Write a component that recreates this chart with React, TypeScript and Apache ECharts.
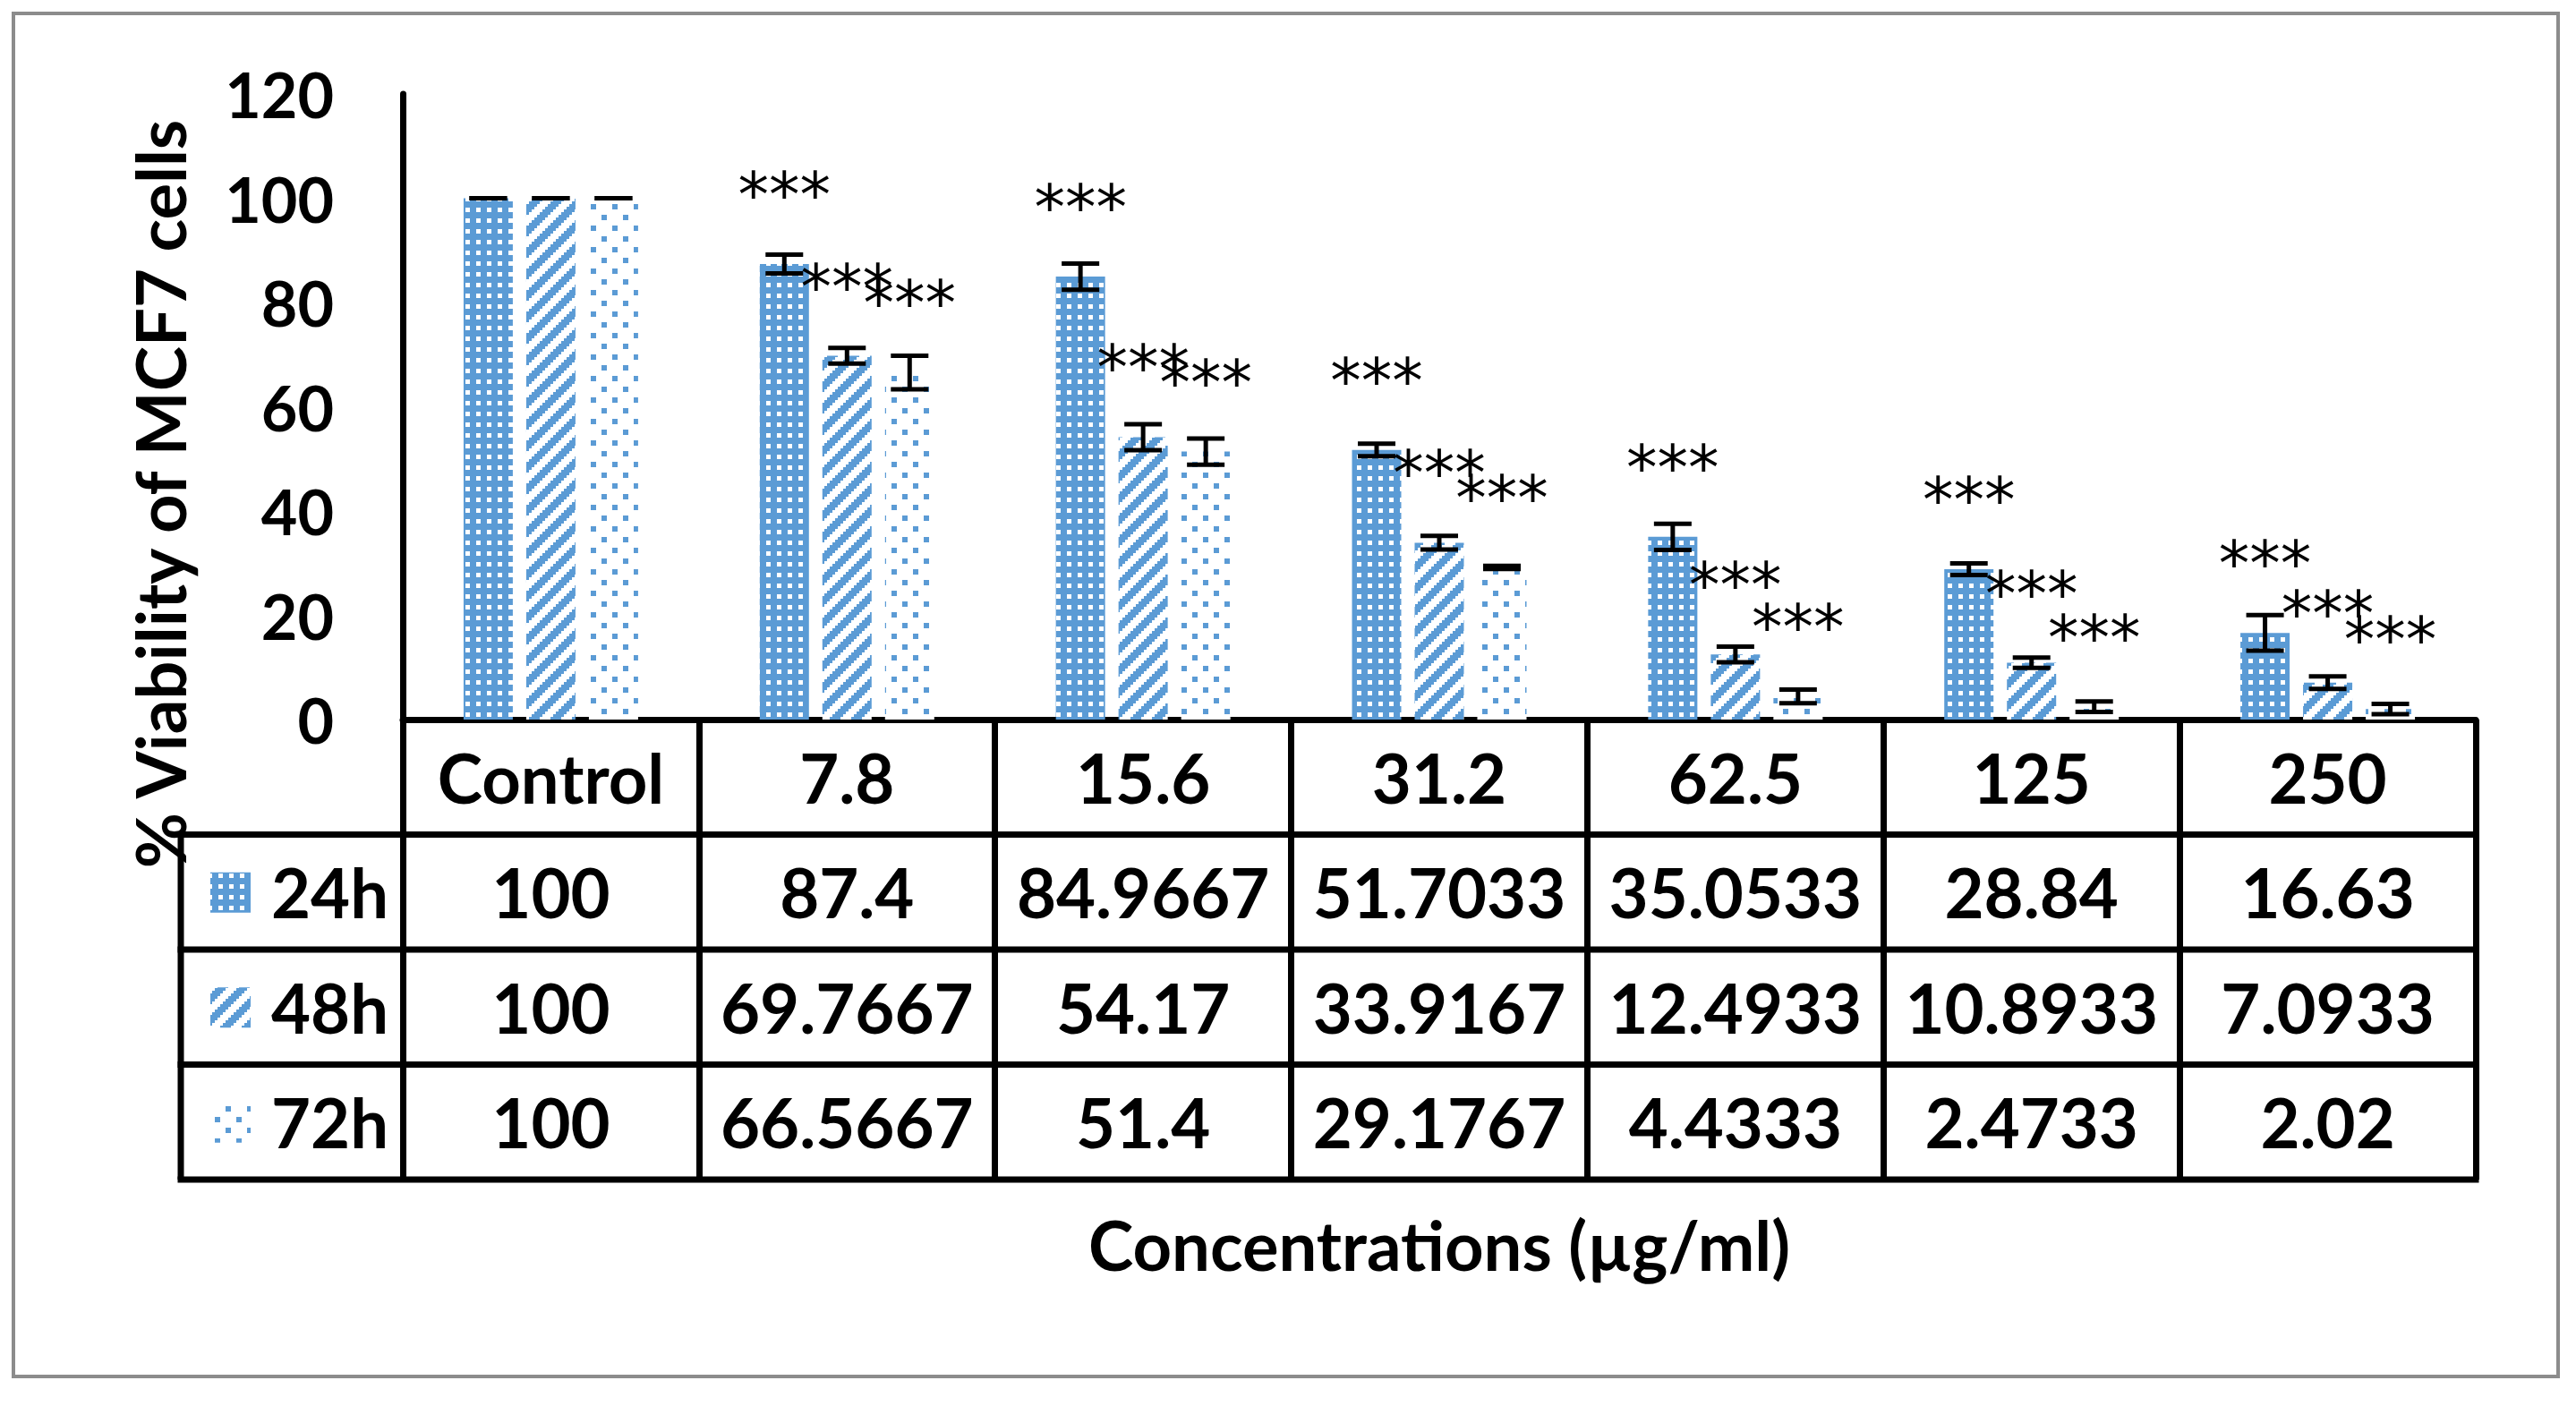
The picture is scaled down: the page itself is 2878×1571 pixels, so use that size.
import React, { useEffect, useRef } from "react";
import * as echarts from "echarts";

// ---------- data ----------
const categories = ["Control", "7.8", "15.6", "31.2", "62.5", "125", "250"];
const seriesNames = ["24h", "48h", "72h"];
const v24 = [100, 87.4, 84.9667, 51.7033, 35.0533, 28.84, 16.63];
const v48 = [100, 69.7667, 54.17, 33.9167, 12.4933, 10.8933, 7.0933];
const v72 = [100, 66.5667, 51.4, 29.1767, 4.4333, 2.4733, 2.02];
const e24 = [0, 1.8, 2.5, 1.2, 2.5, 1.1, 3.4];
const e48 = [0, 1.5, 2.5, 1.3, 1.5, 1.0, 1.2];
const e72 = [0, 3.2, 2.5, 0.3, 1.3, 1.0, 1.0];
const sig24 = ["", "***", "***", "***", "***", "***", "***"];
const sig48 = ["", "***", "***", "***", "***", "***", "***"];
const sig72 = ["", "***", "***", "***", "***", "***", "***"];
const yTicks = { min: 0, max: 120, interval: 20 };
const xTitle = "Concentrations (µg/ml)";
const yTitle = "% Viability of MCF7 cells";

// ---------- layout / style ----------
const W = 2878;
const H = 1571;
const BLUE = "#5B9BD5";
const FONT = "Lato";
const GRID_L = 450;
const GRID_R = 2766;
const GRID_T = 105;
const GRID_B = 804;
const ROW_H = 128.5;
const BAR_W = 55;
const BAR_GAP = 15;
const LINE_W = 7;

function makePattern(kind: string) {
  const c = document.createElement("canvas");
  let w = 12, h = 12;
  if (kind === "48") { w = 24; h = 24; }
  if (kind === "72") { w = 24; h = 24; }
  c.width = w; c.height = h;
  const ctx = c.getContext("2d")!;
  if (kind === "24") {
    ctx.fillStyle = BLUE;
    ctx.fillRect(0, 0, w, h);
    ctx.fillStyle = "#ffffff";
    ctx.fillRect(4, 4, 5, 5);
  } else if (kind === "48") {
    ctx.fillStyle = "#ffffff";
    ctx.fillRect(0, 0, w, h);
    ctx.fillStyle = BLUE;
    for (let by = 0; by < 8; by++) {
      for (let bx = 0; bx < 8; bx++) {
        if ((bx + by) % 8 < 4) ctx.fillRect(bx * 3, by * 3, 3, 3);
      }
    }
  } else {
    ctx.fillStyle = "#ffffff";
    ctx.fillRect(0, 0, w, h);
    ctx.fillStyle = BLUE;
    ctx.fillRect(0, 0, 6, 6);
    ctx.fillRect(12, 12, 6, 6);
  }
  return { image: c.toDataURL(), repeat: "repeat", imageWidth: w, imageHeight: h };
}

export default function App() {
  const ref = useRef<HTMLDivElement>(null);
  useEffect(() => {
    if (!ref.current) return;
    const chart = echarts.init(ref.current, null, { renderer: "svg", width: W, height: H });
    const patterns = [makePattern("24"), makePattern("48"), makePattern("72")];
    const values = [v24, v48, v72];
    const errors = [e24, e48, e72];
    const sigs = [sig24, sig48, sig72];

    const barSeries = values.map((vals, k) => ({
      type: "bar",
      name: seriesNames[k],
      data: vals,
      barWidth: BAR_W,
      barGap: (BAR_GAP / BAR_W) * 100 + "%",
      itemStyle: { color: patterns[k] },
      z: 2,
    }));

    const errSeries = values.map((vals, k) => ({
      type: "custom",
      name: seriesNames[k] + " err",
      data: vals.map((v, i) => [i, v, errors[k][i]]),
      encode: { x: 0, y: 1 },
      clip: false,
      z: 5,
      renderItem: (params: any, api: any) => {
        const i = api.value(0);
        const v = api.value(1);
        const e = api.value(2);
        const dx = (k - 1) * (BAR_W + BAR_GAP);
        const top = api.coord([i, v + e]);
        const bot = api.coord([i, v - e]);
        const mid = api.coord([i, v]);
        const x = mid[0] + dx;
        const ls = { stroke: "#000", lineWidth: 5 };
        const children: any[] = [
          { type: "line", shape: { x1: x, y1: top[1], x2: x, y2: bot[1] }, style: ls },
          { type: "line", shape: { x1: x - 21, y1: top[1], x2: x + 21, y2: top[1] }, style: ls },
          { type: "line", shape: { x1: x - 21, y1: bot[1], x2: x + 21, y2: bot[1] }, style: ls },
        ];
        const s = sigs[k][i];
        if (s) {
          children.push({
            type: "text",
            x: x,
            y: mid[1] - 77,
            style: {
              text: s,
              fontSize: 69,
              fontFamily: "DejaVu Sans",
              fill: "#000",
              align: "center",
              verticalAlign: "middle",
            },
          });
        }
        return { type: "group", children };
      },
    }));

    const rowYs = [GRID_B + ROW_H, GRID_B + 2 * ROW_H, GRID_B + 3 * ROW_H, GRID_B + 4 * ROW_H];
    const tableLeft = 202;
    const graphics: any[] = [
      {
        type: "rect",
        shape: { x: 15, y: 15, width: 2843, height: 1523 },
        style: { fill: "none", stroke: "#8c8c8c", lineWidth: 4 },
        silent: true,
        z: -10,
      },
      ...rowYs.map((y) => ({
        type: "line",
        shape: { x1: tableLeft - LINE_W / 2, y1: y, x2: GRID_R + LINE_W / 2, y2: y },
        style: { stroke: "#000", lineWidth: LINE_W },
      })),
      {
        type: "line",
        shape: { x1: tableLeft, y1: rowYs[0], x2: tableLeft, y2: rowYs[3] },
        style: { stroke: "#000", lineWidth: LINE_W },
      },
      ...seriesNames.flatMap((nm, k) => {
        const cy = GRID_B + ROW_H * (k + 1.5);
        return [
          {
            type: "rect",
            shape: { x: 235, y: cy - 22, width: 45, height: 45 },
            style: { fill: patterns[k] },
          },
          {
            type: "text",
            x: 303,
            y: cy,
            style: {
              text: nm,
              fontSize: 76,
              fontWeight: "bold",
              fontFamily: FONT,
              fill: "#000",
              align: "left",
              verticalAlign: "middle",
            },
          },
        ];
      }),
      {
        type: "text",
        x: (GRID_L + GRID_R) / 2,
        y: 1390,
        style: {
          text: xTitle,
          fontSize: 76,
          fontWeight: "bold",
          fontFamily: FONT,
          fill: "#000",
          align: "center",
          verticalAlign: "middle",
        },
      },
      {
        type: "text",
        x: 178,
        y: 552,
        rotation: Math.PI / 2,
        style: {
          text: yTitle,
          fontSize: 76,
          fontWeight: "bold",
          fontFamily: FONT,
          fill: "#000",
          align: "center",
          verticalAlign: "middle",
        },
      },
    ];

    chart.setOption({
      animation: false,
      backgroundColor: "#ffffff",
      textStyle: { fontFamily: FONT },
      grid: {
        left: GRID_L,
        right: W - GRID_R,
        top: GRID_T,
        bottom: H - GRID_B,
        containLabel: false,
        outerBoundsMode: "none",
      },
      xAxis: {
        type: "category",
        data: categories,
        axisLine: { show: true, lineStyle: { color: "#000", width: LINE_W } },
        axisTick: {
          show: true,
          alignWithLabel: false,
          interval: 0,
          length: ROW_H * 4,
          lineStyle: { color: "#000", width: LINE_W },
        },
        axisLabel: {
          interval: 0,
          margin: 0,
          fontSize: 76,
          fontWeight: "bold",
          fontFamily: FONT,
          color: "#000",
          lineHeight: ROW_H,
          hideOverlap: false,
          formatter: (val: string, idx: number) =>
            [val, String(v24[idx]), String(v48[idx]), String(v72[idx])].join("\n"),
        },
        splitLine: { show: false },
      },
      yAxis: {
        type: "value",
        min: yTicks.min,
        max: yTicks.max,
        interval: yTicks.interval,
        axisLine: { show: true, lineStyle: { color: "#000", width: LINE_W } },
        axisTick: { show: false },
        splitLine: { show: false },
        axisLabel: {
          margin: 77,
          fontSize: 70,
          fontWeight: "bold",
          fontFamily: FONT,
          color: "#000",
        },
      },
      series: [...barSeries, ...errSeries],
      graphic: graphics,
    });
    return () => chart.dispose();
  }, []);
  return (
    <div
      ref={ref}
      style={{ position: "absolute", left: 0, top: 0, width: W, height: H, background: "#fff" }}
    />
  );
}
